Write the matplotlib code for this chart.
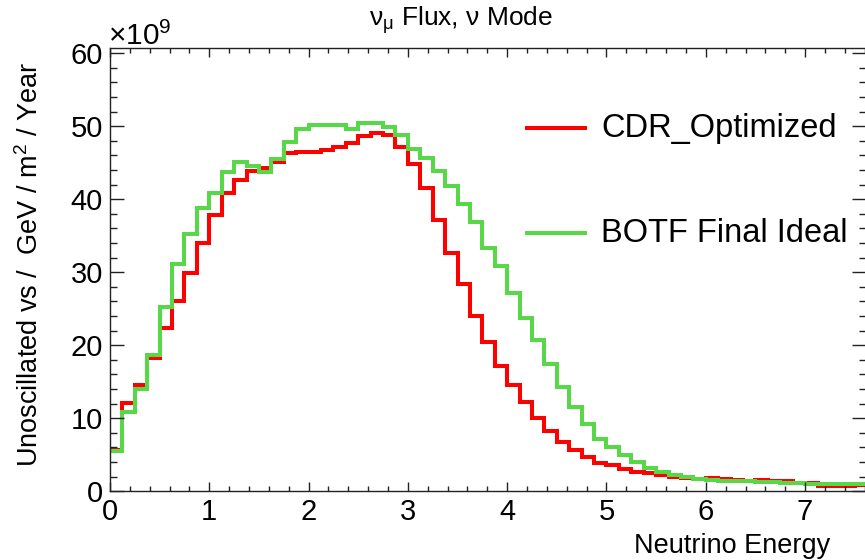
import numpy as np
import matplotlib
matplotlib.use("Agg")
import matplotlib.pyplot as plt
from matplotlib.lines import Line2D
from matplotlib.ticker import MultipleLocator

plt.rcParams['font.family'] = ['Liberation Sans', 'DejaVu Sans']
plt.rcParams['mathtext.fontset'] = 'custom'
plt.rcParams['mathtext.rm'] = 'Liberation Sans'
plt.rcParams['mathtext.it'] = 'Liberation Sans'
plt.rcParams['mathtext.default'] = 'regular'

# ---- data ----
bin_width = 0.125
cdr_optimized = [5.7, 12.05, 14.6, 18.2, 22.3, 26.1, 29.95, 34.0, 37.8, 40.9,
                 42.6, 43.9, 44.3, 45.15, 46.3, 46.5, 46.5, 46.7, 47.2, 47.7,
                 48.7, 49.1, 48.8, 47.2, 44.8, 41.6, 37.2, 32.6, 28.35, 24.0,
                 20.4, 17.1, 14.56, 12.2, 10.1, 8.2, 6.8, 5.6, 4.74, 3.9,
                 3.6, 3.1, 2.6, 2.47, 2.23, 2.0, 1.78, 1.68, 1.86, 1.68,
                 1.5, 1.45, 1.55, 1.35, 1.41, 1.15, 1.1, 0.77, 0.77, 0.77, 0.8]
botf_final_ideal = [5.5, 10.8, 14.0, 18.7, 25.2, 31.1, 35.2, 38.85, 40.9, 43.8,
                    45.1, 44.5, 43.8, 45.5, 47.8, 49.6, 50.2, 50.2, 50.2, 49.6,
                    50.5, 50.4, 49.9, 48.8, 46.85, 45.6, 43.9, 41.8, 39.3, 36.85,
                    33.3, 30.86, 27.1, 23.7, 20.7, 17.45, 14.3, 11.55, 9.2, 7.1,
                    6.1, 4.97, 4.06, 3.15, 2.6, 2.23, 1.92, 1.68, 1.55, 1.41,
                    1.4, 1.4, 1.3, 1.27, 1.2, 1.1, 1.05, 1.0, 1.0, 0.97, 0.95]
series_names = ['CDR_Optimized', 'BOTF Final Ideal']
series_colors = ['#ff0000', '#58d848']

edges = np.arange(len(cdr_optimized) + 1) * bin_width

W, H = 865, 560
fig = plt.figure(figsize=(W / 100, H / 100), dpi=100)
ax = fig.add_axes([110 / W, 1 - 491.3 / H, (866 - 110) / W, (491.3 - 48.3) / H])

lw = 2.9
ax.stairs(cdr_optimized, edges, baseline=None, color=series_colors[0], lw=lw)
ax.stairs(botf_final_ideal, edges, baseline=None, color=series_colors[1], lw=lw)

ax.set_xlim(0, 756 / 99.3)
ax.set_ylim(0, 60.68)

ax.xaxis.set_major_locator(MultipleLocator(1))
ax.xaxis.set_minor_locator(MultipleLocator(0.2))
ax.yaxis.set_major_locator(MultipleLocator(10))
ax.yaxis.set_minor_locator(MultipleLocator(2))
ax.tick_params(axis='both', which='both', direction='in', top=True, right=True,
               labelsize=21, width=1.0, color='#222222')
ax.tick_params(axis='x', which='major', length=6.5, pad=5)
ax.tick_params(axis='x', which='minor', length=3.6)
ax.tick_params(axis='y', which='major', length=10, pad=5)
ax.tick_params(axis='y', which='minor', length=5)
for s in ax.spines.values():
    s.set_linewidth(1.0)
    s.set_color('#222222')

# titles / labels
fig.text(461 / W, 1 - 20 / H, r'$\nu_{\mu}$ Flux, $\nu$ Mode', ha='center',
         va='center', fontsize=19)
fig.text(830 / W, 1 - 546 / H, 'Neutrino Energy', ha='right', va='center',
         fontsize=19.5)
fig.text(30 / W, 1 - 62 / H, r'Unoscillated vs /  GeV / m$^{2}$ / Year',
         rotation=90, ha='center', va='top', fontsize=19.5)
fig.text(108 / W, 1 - 45 / H, r'$\times$10$^{9}$', ha='left', va='baseline',
         fontsize=21.5)

# legend
for name, color, yl in zip(series_names, series_colors, [128, 233]):
    fig.add_artist(Line2D([527 / W, 585 / W], [1 - yl / H, 1 - yl / H],
                          color=color, lw=lw, transform=fig.transFigure))
    fig.text(601 / W, 1 - yl / H, name, ha='left', va='center', fontsize=23.5)

fig.savefig('out.png', dpi=100)
